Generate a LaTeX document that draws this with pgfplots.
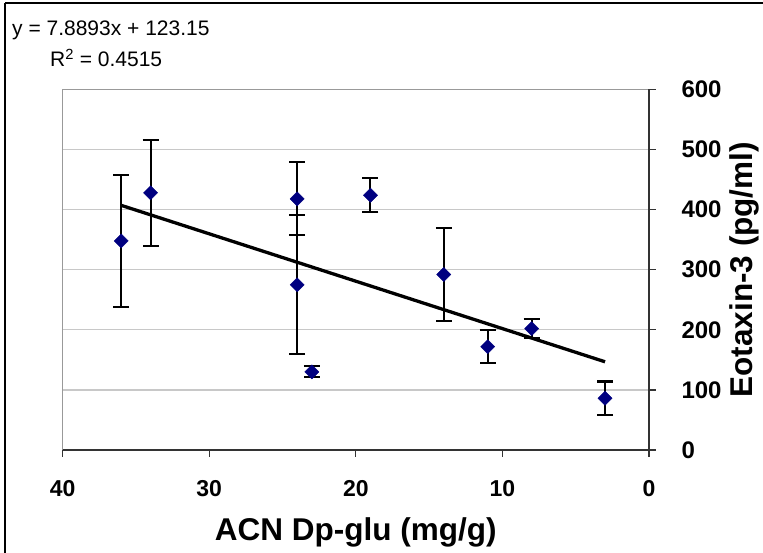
\documentclass[border=0pt]{standalone}
\usepackage{pgfplots}
\pgfplotsset{compat=1.18}
\usepackage{fontspec}
\setmainfont{Liberation Sans}
\definecolor{navyc}{HTML}{000080}
\definecolor{gridc}{HTML}{C8C8C8}
\begin{document}
\begin{tikzpicture}
\path[use as bounding box] (0pt,0pt) rectangle (763pt,553pt);
\draw[line width=1.5pt,black] (5pt,550pt) -- (763pt,550pt);
\draw[line width=1.5pt,black] (5pt,550pt) -- (5pt,0pt);
\node[anchor=base west,font=\fontsize{21}{24}\selectfont,inner sep=0] at (12pt,517pt) {y = 7.8893x + 123.15};
\node[anchor=base west,font=\fontsize{21}{24}\selectfont,inner sep=0] at (50pt,486pt) {R\textsuperscript{2} = 0.4515};
\begin{axis}[
  at={(62.6pt,103pt)}, anchor=south west,
  width=586.4pt, height=360.5pt, scale only axis,
  xmin=0, xmax=40, x dir=reverse,
  ymin=0, ymax=600,
  xtick={0,10,20,30,40}, ytick={0,100,200,300,400,500,600},
  axis line style={draw=none},
  xtick pos=bottom, ytick pos=right,
  xticklabel pos=bottom, yticklabel pos=right,
  tick align=outside, major tick length=7pt,
  tick style={line width=1.3pt,black!80},
  /pgf/number format/assume math mode=true,
  ticklabel style={font=\fontsize{23}{26}\selectfont\bfseries},
  xticklabel style={yshift=-20pt},
  yticklabel style={xshift=22pt, font=\fontsize{24}{27}\selectfont\bfseries},
  xlabel={ACN Dp-glu (mg/g)},
  ylabel={Eotaxin-3 (pg/ml)},
  xlabel style={font=\fontsize{31.5}{36}\selectfont\bfseries, inner sep=0pt, at={(axis description cs:0.5,0)}, anchor=north, yshift=-67pt},
  ylabel style={font=\fontsize{31.5}{36}\selectfont\bfseries, inner sep=0pt, at={(rel axis cs:1,0.5)}, anchor=north, rotate=0, yshift=-80pt},
  clip=false,
]
\draw[line width=1.2pt,gridc] (axis cs:40,100) -- (axis cs:0,100);
\draw[line width=1.2pt,gridc] (axis cs:40,200) -- (axis cs:0,200);
\draw[line width=1.2pt,gridc] (axis cs:40,300) -- (axis cs:0,300);
\draw[line width=1.2pt,gridc] (axis cs:40,400) -- (axis cs:0,400);
\draw[line width=1.2pt,gridc] (axis cs:40,500) -- (axis cs:0,500);
\draw[line width=1.3pt,black!40] (axis cs:0,600) -- (axis cs:40,600) -- (axis cs:40,0);
\draw[line width=1.4pt,black!80] (axis cs:40,0) -- (axis cs:0,0) -- (axis cs:0,600);
\addplot[only marks, mark=square*, mark size=5pt, mark options={rotate=45, fill=navyc, draw=navyc},
  error bars/.cd, y dir=both, y explicit,
  error bar style={line width=2pt,black},
  error mark options={rotate=90, mark size=8pt, line width=2pt, black}]
  table[x=x, y=y, y error=e] {
x y e
36 348 110
34 428 88
24 418 61
24 275 116
23 130 9
19 424 28
14 292 78
11 172 28
8 202 16
3 86 28
};
\addplot[line width=3.3pt, black] coordinates {(3,146.82) (36,407.16)};
\end{axis}
\end{tikzpicture}
\end{document}
